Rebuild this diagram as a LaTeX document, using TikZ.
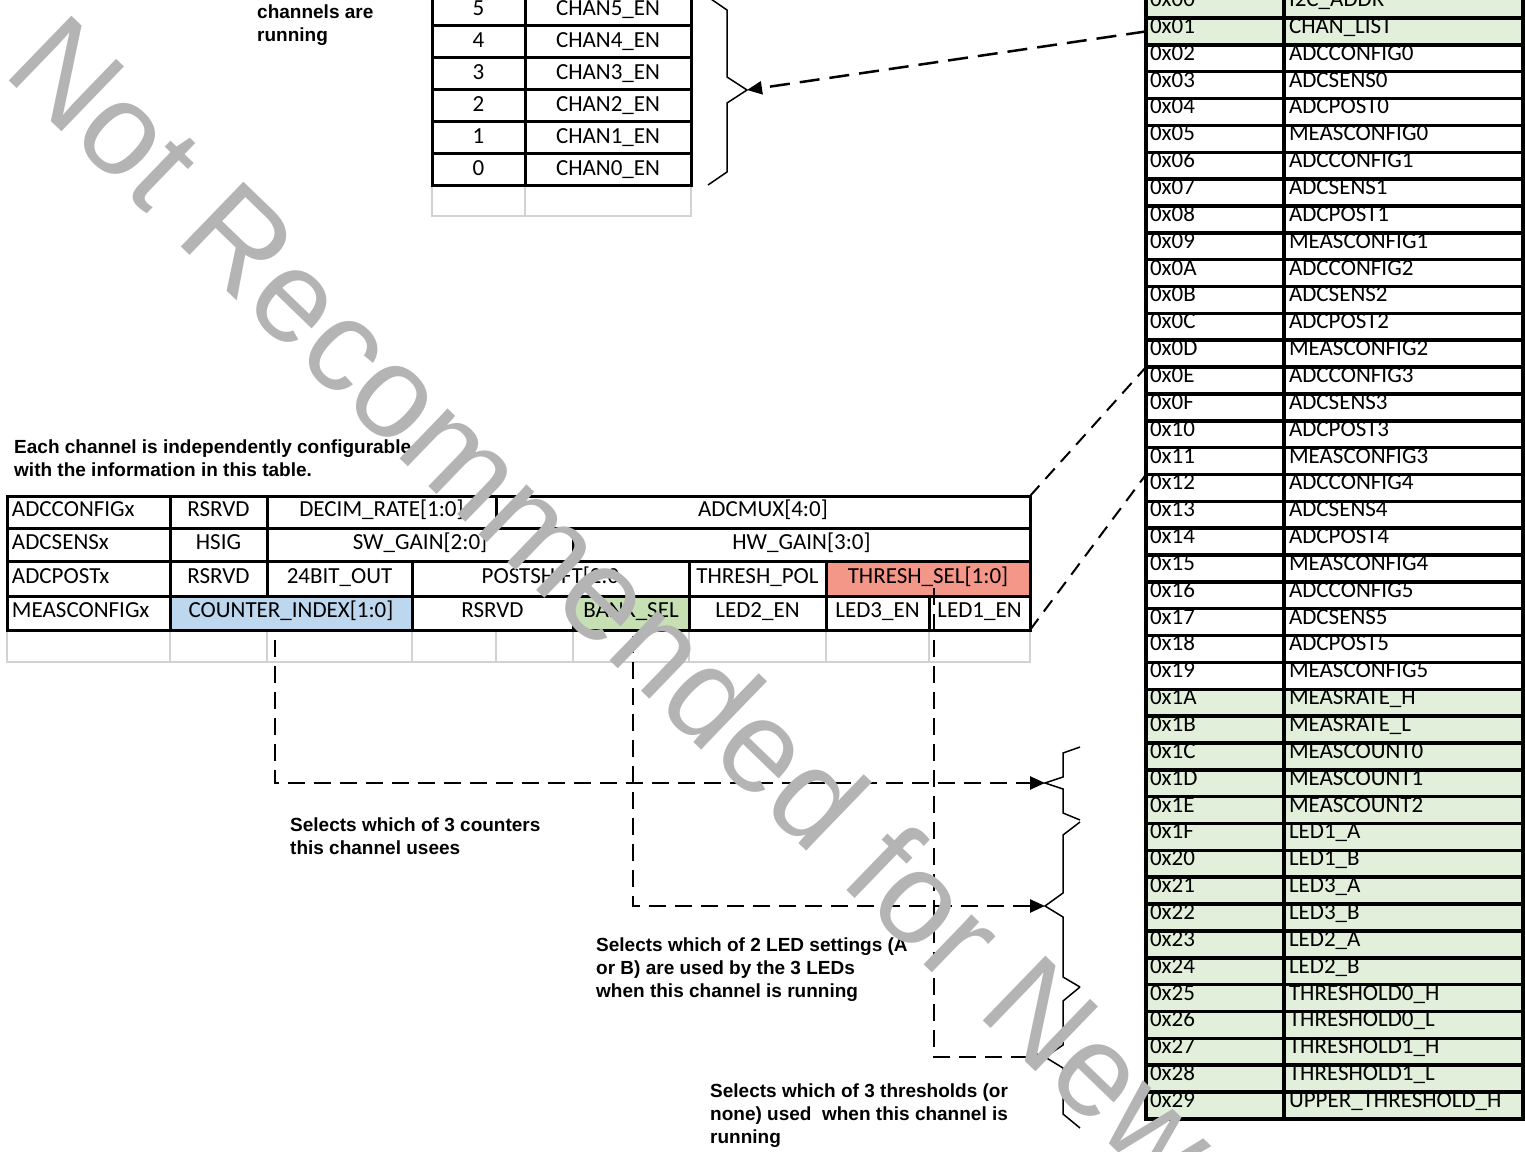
\documentclass[tikz,border=0pt]{standalone}
\usepackage{fontspec}
\setmainfont{Carlito}
\newfontfamily\notefont{Liberation Sans}
\newfontfamily\wmfont{Liberation Sans}
\usepackage{tikz}
\usetikzlibrary{arrows.meta,positioning}
\definecolor{regfill}{RGB}{226,239,218}
\definecolor{cntfill}{RGB}{189,215,238}
\definecolor{bankfill}{RGB}{198,224,180}
\definecolor{thrfill}{RGB}{244,150,136}
\definecolor{gridgray}{RGB}{210,210,210}
\definecolor{wmgray}{RGB}{180,180,180}
\newcommand{\cellfont}{\fontsize{23}{27}\selectfont}
\newcommand{\notesize}{\fontsize{19}{23}\selectfont}

\tikzset{
    cell/.style={draw, line width=3pt, inner sep=0pt, outer sep=0pt, anchor=north west,
        font=\cellfont, text height=15pt, text depth=6pt},
    chcell/.style={cell, minimum height=32pt, text depth=2pt},
    regcell/.style={draw, line width=3.5pt, inner sep=0pt, outer sep=0pt, anchor=north west,
        minimum height=26.85pt, font=\cellfont, text height=15pt, text depth=11pt, align=left},
    graycell/.style={draw=gridgray, line width=2pt, inner sep=0pt, outer sep=0pt, anchor=north west},
    note/.style={anchor=north west, inner sep=0pt, align=left, font=\notefont\bfseries\notesize},
    bracel/.style={line width=1.5pt, line join=miter},
    dashlong/.style={line width=2.5pt, dash pattern=on 20pt off 10pt},
    dashline/.style={line width=2.5pt, dash pattern=on 17pt off 9pt},
    dashdiag/.style={line width=2pt, dash pattern=on 14pt off 9pt},
    tipfill/.tip={Triangle[length=15pt,width=13pt]},
    wmark/.style={anchor=base west, rotate=-44, inner sep=0pt, text=wmgray,
        font=\wmfont\fontsize{131}{131}\selectfont}
}

\begin{document}
\begin{tikzpicture}[x=1pt, y=-1pt]
    \useasboundingbox (0,0) rectangle (1525,1151);
    \clip (0,0) rectangle (1525,1151);

    % register map
    \foreach \addr/\reg [count=\i from 0] in {00/I2C\_ADDR, 01/CHAN\_LIST,
        02/ADCCONFIG0, 03/ADCSENS0, 04/ADCPOST0, 05/MEASCONFIG0,
        06/ADCCONFIG1, 07/ADCSENS1, 08/ADCPOST1, 09/MEASCONFIG1,
        0A/ADCCONFIG2, 0B/ADCSENS2, 0C/ADCPOST2, 0D/MEASCONFIG2,
        0E/ADCCONFIG3, 0F/ADCSENS3, 10/ADCPOST3, 11/MEASCONFIG3,
        12/ADCCONFIG4, 13/ADCSENS4, 14/ADCPOST4, 15/MEASCONFIG4,
        16/ADCCONFIG5, 17/ADCSENS5, 18/ADCPOST5, 19/MEASCONFIG5,
        1A/MEASRATE\_H, 1B/MEASRATE\_L, 1C/MEASCOUNT0, 1D/MEASCOUNT1, 1E/MEASCOUNT2,
        1F/LED1\_A, 20/LED1\_B, 21/LED3\_A, 22/LED3\_B, 23/LED2\_A, 24/LED2\_B,
        25/THRESHOLD0\_H, 26/THRESHOLD0\_L, 27/THRESHOLD1\_H, 28/THRESHOLD1\_L,
        29/UPPER\_THRESHOLD\_H} {
        \pgfmathsetmacro{\ry}{-8.85+\i*26.85}
        \def\rowfill{white}
        \ifnum\i<2 \def\rowfill{regfill}\fi
        \ifnum\i>25 \def\rowfill{regfill}\fi
        \node[regcell, fill=\rowfill, minimum width=138pt, text width=130pt] (a\addr) at (1146,\ry) {0x\addr};
        \node[regcell, fill=\rowfill, minimum width=239pt, text width=229pt] (r\addr) at (1284,\ry) {\reg};
    }

    % channel enable bits
    \node[graycell, minimum width=93pt, minimum height=31pt] (chblankA) at (432,185) {};
    \node[graycell, minimum width=166pt, minimum height=31pt] (chblankB) at (525,185) {};
    \foreach \b [count=\k from 0] in {5,4,3,2,1,0} {
        \pgfmathsetmacro{\ty}{-7+\k*32}
        \node[chcell, minimum width=93pt] (bit\b) at (432,\ty) {\b};
        \node[chcell, minimum width=166pt] (en\b) at (525,\ty) {CHAN\b\_EN};
    }
    \coordinate (chtip) at (747,90);
    \draw[bracel] (708,-3) -- (727,10) -- (727,77) -- (chtip) -- (727,103) -- (727,172) -- (708,185);
    \node[note] (runnote) at (257,5) {channels are\\running};

    % per channel configuration table
    \node[note] (tablenote) at (14,440) {Each channel is independently configurable\\with the information in this table.};
    \foreach \xa/\xb in {7/170,170/267,267/412,412/496,496/573,573/689,689/826,826/929,929/1030} {
        \pgfmathsetmacro{\gw}{\xb-\xa}
        \node[graycell, minimum width=\gw pt, minimum height=32pt] (blank\xa) at (\xa,630) {};
    }
    % ADCCONFIGx
    \node[cell, minimum width=163pt, minimum height=32pt, text width=153pt, align=left] (cfgname) at (7,496) {ADCCONFIGx};
    \node[cell, minimum width=97pt, minimum height=32pt] (cfgrsv) at (170,496) {RSRVD};
    \node[cell, minimum width=229pt, minimum height=32pt] (cfgdecim) at (267,496) {DECIM\_RATE[1:0]};
    \node[cell, minimum width=534pt, minimum height=32pt] (cfgmux) at (496,496) {ADCMUX[4:0]};
    % ADCSENSx
    \node[cell, minimum width=163pt, minimum height=33pt, text width=153pt, align=left] (sensname) at (7,528) {ADCSENSx};
    \node[cell, minimum width=97pt, minimum height=33pt] (senshsig) at (170,528) {HSIG};
    \node[cell, minimum width=306pt, minimum height=33pt] (senssw) at (267,528) {SW\_GAIN[2:0]};
    \node[cell, minimum width=457pt, minimum height=33pt] (senshw) at (573,528) {HW\_GAIN[3:0]};
    % ADCPOSTx
    \node[cell, minimum width=163pt, minimum height=35pt, text width=153pt, align=left] (postname) at (7,561) {ADCPOSTx};
    \node[cell, minimum width=97pt, minimum height=35pt] (postrsv) at (170,561) {RSRVD};
    \node[cell, minimum width=145pt, minimum height=35pt] (post24) at (267,561) {24BIT\_OUT};
    \node[cell, minimum width=277pt, minimum height=35pt] (postshift) at (412,561) {POSTSHIFT[2:0};
    \node[cell, minimum width=137pt, minimum height=35pt] (postpol) at (689,561) {THRESH\_POL};
    \node[cell, fill=thrfill, minimum width=204pt, minimum height=35pt] (postsel) at (826,561) {THRESH\_SEL[1:0]};
    % MEASCONFIGx
    \node[cell, minimum width=163pt, minimum height=34pt, text width=153pt, align=left] (measname) at (7,596) {MEASCONFIGx};
    \node[cell, fill=cntfill, minimum width=242pt, minimum height=34pt] (meascnt) at (170,596) {COUNTER\_INDEX[1:0]};
    \node[cell, minimum width=161pt, minimum height=34pt] (measrsv) at (412,596) {RSRVD};
    \node[cell, fill=bankfill, minimum width=116pt, minimum height=34pt] (measbank) at (573,596) {BANK\_SEL};
    \node[cell, minimum width=137pt, minimum height=34pt] (measled2) at (689,596) {LED2\_EN};
    \node[cell, minimum width=103pt, minimum height=34pt] (measled3) at (826,596) {LED3\_EN};
    \node[cell, minimum width=101pt, minimum height=34pt] (measled1) at (929,596) {LED1\_EN};

    % braces on the register map side
    \coordinate (tipA) at (1045,783);
    \coordinate (tipB) at (1045,906);
    \coordinate (tipC) at (1045,1057);
    \draw[bracel] (1080,747) -- (1063,753) -- (1063,777) -- (tipA) -- (1063,789) -- (1063,813) -- (1080,820);
    \draw[bracel] (1080,822) -- (1063,835) -- (1063,893) -- (tipB) -- (1063,917) -- (1063,977) -- (1080,987);
    \draw[bracel] (1080,987) -- (1063,1001) -- (1063,1045) -- (tipC) -- (1063,1068) -- (1063,1114) -- (1080,1128);

    % connectors
    \coordinate (cntsrc) at (275,640);
    \coordinate (banksrc) at (633,636);
    \coordinate (thrsrc) at (934,588);
    \draw[dashline, -tipfill] (cntsrc) |- (tipA);
    \draw[dashline, -tipfill] (banksrc) |- (tipB);
    \draw[dashline, -tipfill] (thrsrc) |- (tipC);
    \draw[dashlong, -tipfill] (a01.west) -- (chtip);
    \draw[dashdiag] (cfgmux.north east) -- (a0E.north west);
    \draw[dashdiag] (measled1.south east) -- (a12.north west);

    \node[note] (cntnote) at (290,818) {Selects which of 3 counters\\this channel usees};
    \node[note] (banknote) at (596,938) {Selects which of 2 LED settings (A\\or B) are used by the 3 LEDs\\when this channel is running};
    \node[note] (thrnote) at (710,1084) {Selects which of 3 thresholds (or\\none) used\ \ when this channel is\\running};

    % watermark
    \node[wmark] (wm) at (1,73) {Not Recommended for New};
\end{tikzpicture}
\end{document}
